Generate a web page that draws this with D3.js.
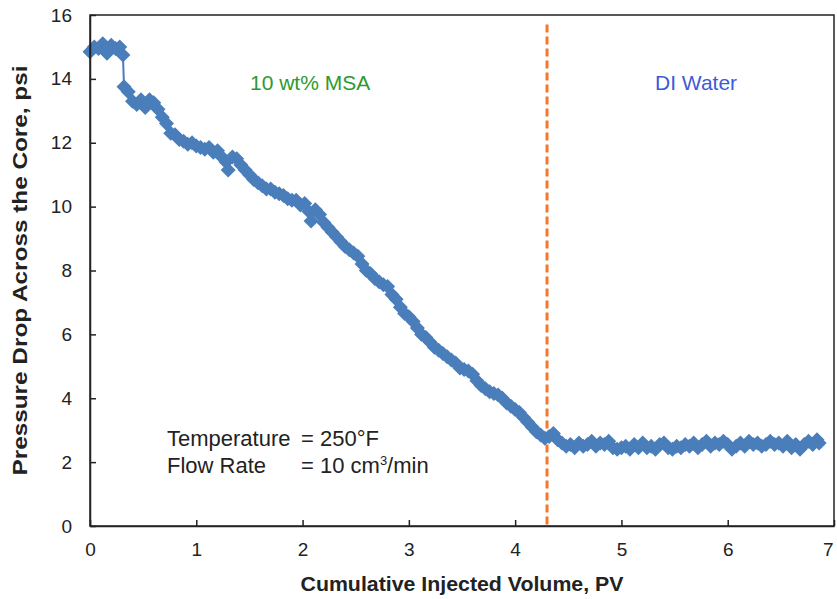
<!DOCTYPE html>
<html><head><meta charset="utf-8">
<script src="https://cdn.jsdelivr.net/npm/d3@7"></script>
<style>body{margin:0;background:#fff}svg{display:block}text{font-family:"Liberation Sans",Arial,sans-serif}</style>
</head><body>
<svg id="c" width="837" height="599"></svg>
<script>
const pv = [0.00,0.04,0.08,0.12,0.16,0.20,0.24,0.28,0.31,0.32,0.36,0.40,0.44,0.48,0.52,0.56,0.60,0.64,0.68,0.72,0.76,0.80,0.84,0.88,0.92,0.96,1.00,1.04,1.08,1.12,1.16,1.20,1.24,1.28,1.30,1.34,1.38,1.42,1.46,1.50,1.54,1.58,1.62,1.66,1.70,1.74,1.78,1.82,1.86,1.90,1.94,1.98,2.02,2.06,2.08,2.12,2.16,2.20,2.24,2.28,2.32,2.36,2.40,2.44,2.48,2.52,2.56,2.60,2.64,2.68,2.72,2.76,2.80,2.84,2.88,2.92,2.96,3.00,3.04,3.08,3.12,3.16,3.20,3.24,3.28,3.32,3.36,3.40,3.44,3.48,3.52,3.56,3.60,3.64,3.68,3.72,3.76,3.80,3.84,3.88,3.92,3.96,4.00,4.04,4.08,4.12,4.16,4.20,4.24,4.28,4.32,4.36,4.40,4.44,4.48,4.52,4.56,4.60,4.64,4.68,4.72,4.76,4.80,4.84,4.88,4.92,4.96,5.00,5.04,5.08,5.12,5.16,5.20,5.24,5.28,5.32,5.36,5.40,5.44,5.48,5.52,5.56,5.60,5.64,5.68,5.72,5.76,5.80,5.84,5.88,5.92,5.96,6.00,6.04,6.08,6.12,6.16,6.20,6.24,6.28,6.32,6.36,6.40,6.44,6.48,6.52,6.56,6.60,6.64,6.68,6.72,6.76,6.80,6.84,6.86];
const dp = [14.85,15.00,14.95,15.10,14.80,15.05,14.95,15.00,14.75,13.75,13.60,13.30,13.20,13.35,13.10,13.35,13.25,13.05,12.80,12.60,12.30,12.25,12.10,12.05,11.95,12.00,11.90,11.85,11.80,11.85,11.70,11.75,11.55,11.40,11.15,11.55,11.50,11.30,11.15,11.00,10.85,10.75,10.65,10.55,10.55,10.45,10.40,10.35,10.25,10.20,10.20,10.05,10.10,9.85,9.55,9.90,9.75,9.50,9.35,9.20,9.05,8.90,8.75,8.65,8.55,8.45,8.20,8.00,7.90,7.75,7.65,7.55,7.50,7.25,7.10,6.85,6.65,6.55,6.40,6.20,6.00,5.90,5.75,5.60,5.50,5.40,5.30,5.20,5.10,4.95,4.90,4.85,4.75,4.55,4.40,4.30,4.20,4.15,4.10,4.00,3.85,3.75,3.65,3.55,3.40,3.25,3.10,2.95,2.85,2.75,2.80,2.90,2.70,2.60,2.50,2.55,2.45,2.60,2.50,2.55,2.65,2.50,2.60,2.55,2.65,2.45,2.40,2.45,2.50,2.40,2.55,2.45,2.60,2.45,2.50,2.40,2.55,2.60,2.45,2.40,2.50,2.45,2.55,2.50,2.60,2.45,2.55,2.65,2.50,2.60,2.55,2.65,2.55,2.40,2.50,2.60,2.50,2.65,2.55,2.60,2.50,2.55,2.65,2.55,2.60,2.50,2.65,2.45,2.55,2.40,2.55,2.65,2.55,2.70,2.60];
const xTicks = [0,1,2,3,4,5,6,7];
const yTicks = [0,2,4,6,8,10,12,14,16];
const switchPV = 4.3;
const stageLabels = ["10 wt% MSA","DI Water"];
const xTitle = "Cumulative Injected Volume, PV";
const yTitle = "Pressure Drop Across the Core, psi";

const svg = d3.select("#c");
const m = {l:90, r:3, t:15, b:73};
const W = 837, H = 599;
const x = d3.scaleLinear().domain([0,7]).range([m.l, W-m.r]);
const y = d3.scaleLinear().domain([0,16]).range([H-m.b, m.t]);
const blue = "#4a7ebb";

// dashed switch line
svg.append("line").attr("x1",x(switchPV)).attr("x2",x(switchPV))
  .attr("y1",y(15.7)).attr("y2",y(0))
  .attr("stroke","#f5782a").attr("stroke-width",3).attr("stroke-dasharray","8,4");

// series
const pts = pv.map((v,i)=>[v,dp[i]]);
svg.append("path").datum(pts)
  .attr("d", d3.line().x(d=>x(d[0])).y(d=>y(d[1])))
  .attr("fill","none").attr("stroke",blue).attr("stroke-width",2);
const r = 7.5;
svg.append("g").selectAll("path").data(pts).join("path")
  .attr("d",`M0,${-r}L${r},0L0,${r}L${-r},0Z`)
  .attr("transform",d=>`translate(${x(d[0])},${y(d[1])})`)
  .attr("fill",blue);

// frame
svg.append("rect").attr("x",m.l).attr("y",m.t).attr("width",W-m.r-m.l).attr("height",H-m.b-m.t)
  .attr("fill","none").attr("stroke","#222").attr("stroke-width",1.5);

// axes
const xa = svg.append("g").attr("transform",`translate(0,${y(0)})`)
  .call(d3.axisBottom(x).tickValues(xTicks).tickFormat(d3.format("d")).tickSizeInner(-6).tickSizeOuter(0).tickPadding(17));
const ya = svg.append("g").attr("transform",`translate(${x(0)},0)`)
  .call(d3.axisLeft(y).tickValues(yTicks).tickFormat(d3.format("d")).tickSizeInner(-6).tickSizeOuter(0).tickPadding(18));
[xa,ya].forEach(g=>{
  g.select(".domain").attr("stroke","#222").attr("stroke-width",1.5);
  g.selectAll(".tick line").attr("stroke","#222").attr("stroke-width",1.5);
  g.selectAll(".tick text").attr("font-size",19).attr("fill","#222")
    .attr("font-family","'Liberation Sans',Arial,sans-serif");
});
xa.selectAll(".tick text").filter(d=>d===7).attr("text-anchor","end").attr("dx",-1);

// titles
svg.append("text").attr("x",(x(0)+x(7))/2).attr("y",591).attr("text-anchor","middle")
  .attr("font-size",21).attr("font-weight","bold").attr("fill","#222")
  .attr("textLength",323).attr("lengthAdjust","spacingAndGlyphs").text(xTitle);
svg.append("text").attr("transform",`translate(27,${(y(0)+y(16))/2}) rotate(-90)`)
  .attr("text-anchor","middle").attr("font-size",21).attr("font-weight","bold").attr("fill","#222")
  .attr("textLength",410).attr("lengthAdjust","spacingAndGlyphs").text(yTitle);

// stage labels
svg.append("text").attr("x",250).attr("y",90).attr("font-size",21).attr("fill","#2e9a2e").text(stageLabels[0]);
svg.append("text").attr("x",655).attr("y",90).attr("font-size",21).attr("fill","#3d5ad9").text(stageLabels[1]);

// annotation
const ann = svg.append("g").attr("font-size",22).attr("fill","#222");
ann.append("text").attr("x",167).attr("y",446).text("Temperature");
ann.append("text").attr("x",301).attr("y",446).text("= 250°F");
ann.append("text").attr("x",167).attr("y",473).text("Flow Rate");
const t2 = ann.append("text").attr("x",301).attr("y",473);
t2.append("tspan").text("= 10 cm");
t2.append("tspan").attr("dy",-8).attr("font-size",13).text("3");
t2.append("tspan").attr("dy",8).text("/min");
</script>
</body></html>
